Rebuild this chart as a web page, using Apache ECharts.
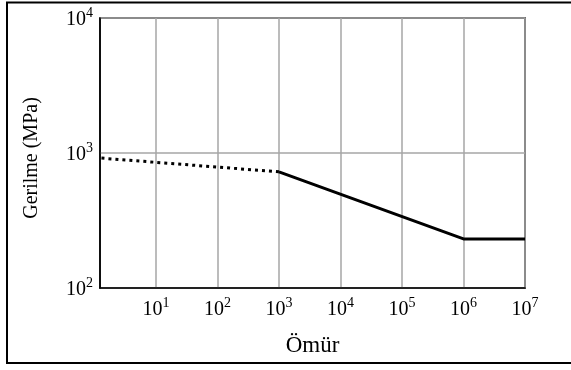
<!DOCTYPE html>
<html>
<head>
<meta charset="utf-8">
<script src="https://cdn.jsdelivr.net/npm/echarts@6/dist/echarts.min.js"></script>
<style>html,body{margin:0;padding:0;background:#fff}#c{width:571px;height:370px}</style>
</head>
<body>
<div id="c"></div>
<script>
// Data (life N in cycles, stress S in MPa)
var xTicks = [10, 100, 1000, 10000, 100000, 1000000, 10000000];
var yTicks = [100, 1000, 10000];
var dottedN = [1, 1000];
var dottedS = [925, 725];
var solidN = [1000, 1000000, 10000000];
var solidS = [725, 231, 231];
var xName = 'Ömür';
var yName = 'Gerilme (MPa)';

var FONT = 'Liberation Serif';
function pow10Label(v) {
  var e = Math.round(Math.log10(v));
  return '{b|10}{s|' + e + '}';
}
var rich = {
  b: { fontFamily: FONT, fontSize: 20, color: '#000', verticalAlign: 'bottom', lineHeight: 24 },
  s: { fontFamily: FONT, fontSize: 14, color: '#000', verticalAlign: 'top', lineHeight: 24 }
};
function pairs(a, b) { return a.map(function (v, i) { return [v, b[i]]; }); }

var chart = echarts.init(document.getElementById('c'), null, { renderer: 'canvas' });
chart.setOption({
  animation: false,
  backgroundColor: '#fff',
  graphic: [{
    type: 'rect', z: 100, silent: true,
    shape: { x: 7, y: 2.5, width: 600, height: 360.5 },
    style: { fill: 'none', stroke: '#000', lineWidth: 2 }
  }],
  grid: {
    left: 100, right: 46, top: 18, bottom: 82,
    show: true, borderColor: '#000', borderWidth: 1.5, backgroundColor: 'transparent'
  },
  xAxis: {
    type: 'log', logBase: 10, min: 1.23, max: 10000000,
    name: xName, nameLocation: 'middle', nameGap: 46,
    nameTextStyle: { fontFamily: FONT, fontSize: 23, color: '#000' },
    axisLine: { show: true, lineStyle: { color: '#000', width: 1.5 } },
    axisTick: { show: false, customValues: xTicks },
    axisLabel: { customValues: xTicks, formatter: pow10Label, rich: rich, margin: 8,
      fontFamily: FONT, fontSize: 20, color: '#000' },
    splitLine: { show: true, lineStyle: { color: '#a6a6a6', width: 1.5 } },
    minorSplitLine: { show: false }
  },
  yAxis: {
    type: 'log', logBase: 10, min: 100, max: 10000, interval: 1,
    name: yName, nameLocation: 'middle', nameGap: 58, nameRotate: 90,
    nameTextStyle: { fontFamily: FONT, fontSize: 20, color: '#000', padding: [0, 10, 0, 0] },
    axisLine: { show: true, lineStyle: { color: '#000', width: 1.5 } },
    axisTick: { show: false, customValues: yTicks },
    axisLabel: { customValues: yTicks, formatter: pow10Label, rich: rich, margin: 7,
      fontFamily: FONT, fontSize: 20, color: '#000' },
    splitLine: { show: true, lineStyle: { color: '#a6a6a6', width: 1.5 } }
  },
  series: [
    {
      type: 'line', data: pairs(dottedN, dottedS), showSymbol: false, symbol: 'none', clip: true,
      lineStyle: { color: '#000', width: 3, type: [3, 4], cap: 'butt' }, z: 5
    },
    {
      type: 'line', data: pairs(solidN, solidS), showSymbol: false, symbol: 'none', clip: true,
      lineStyle: { color: '#000', width: 3 }, z: 5
    }
  ]
});
</script>
</body>
</html>
